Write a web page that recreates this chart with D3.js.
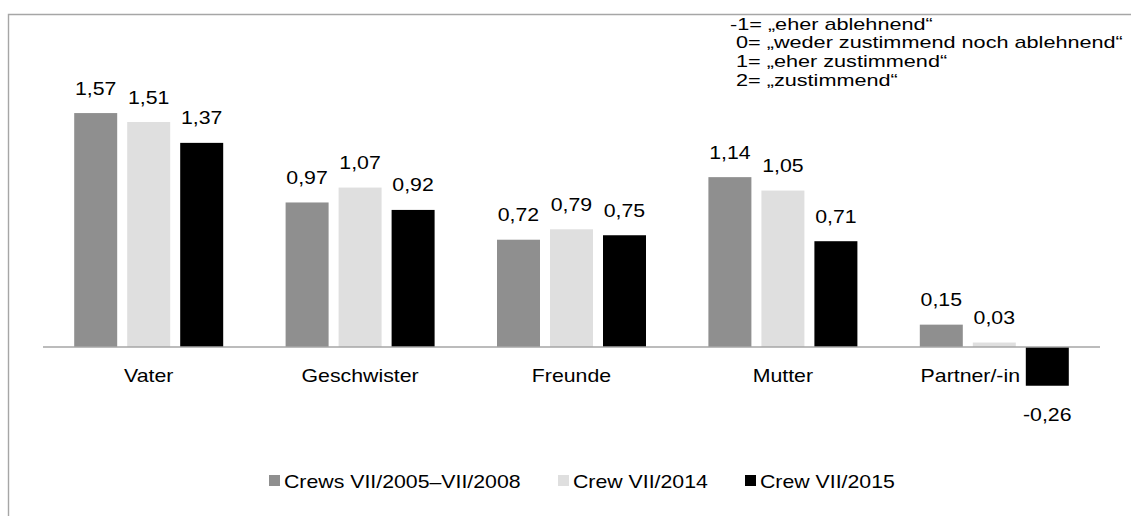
<!DOCTYPE html>
<html><head><meta charset="utf-8">
<script src="https://cdn.jsdelivr.net/npm/d3@7"></script>
<style>body{margin:0;background:#fff}svg{display:block;font-family:"Liberation Sans",Arial,sans-serif}</style>
</head><body>
<svg id="c" width="1131" height="516"></svg>
<script>
const categories = ["Vater","Geschwister","Freunde","Mutter","Partner/-in"];
const seriesNames = ["Crews VII/2005–VII/2008","Crew VII/2014","Crew VII/2015"];
const seriesColors = ["#8f8f8f","#dfdfdf","#000000"];
const s1 = [1.57,0.97,0.72,1.14,0.15];
const s2 = [1.51,1.07,0.79,1.05,0.03];
const s3 = [1.37,0.92,0.75,0.71,-0.26];
const noteLines = ["-1= „eher ablehnend“"," 0= „weder zustimmend noch ablehnend“"," 1= „eher zustimmend“"," 2= „zustimmend“"];

const seriesValues = [s1,s2,s3];
const svg = d3.select("#c");
const FS = 19, STRETCH = 1.12;
const NOTE_FS = 16.2, NOTE_STRETCH = 19/16.2*1.14;
const fmt = v => d3.format(".2f")(v).replace(".",",").replace("−","-");
function stretch(sel, k){
  k = k || STRETCH;
  sel.each(function(){
    const w = this.getComputedTextLength();
    d3.select(this).attr("textLength", w*k).attr("lengthAdjust","spacingAndGlyphs");
  });
  return sel;
}

// frame
svg.append("path").attr("d","M8.5,516 V14.5 H1131").attr("fill","none").attr("stroke","#a6a6a6").attr("stroke-width",1.4);

const x = d3.scaleBand().domain(categories).range([43,1100]).paddingInner(0).paddingOuter(0);
const groupW = 149;
const xs = d3.scaleBand().domain(d3.range(3)).range([0,groupW]).paddingInner(10/53).paddingOuter(0);
const y = d3.scaleLinear().domain([-0.5,2]).range([421.5,49]);
const off = (x.bandwidth()-groupW)/2;

const g = svg.append("g");
categories.forEach((c,ci)=>{
  seriesValues.forEach((vals,si)=>{
    const v = vals[ci];
    const bx = x(c)+off+xs(si);
    g.append("rect").attr("x",bx).attr("width",xs.bandwidth())
      .attr("y",y(Math.max(0,v))).attr("height",Math.abs(y(v)-y(0)))
      .attr("fill",seriesColors[si]);
    const t = g.append("text").attr("x",bx+xs.bandwidth()/2)
      .attr("y", v>=0 ? y(v)-18.5 : y(v)+35)
      .attr("text-anchor","middle").attr("font-size",FS).attr("fill","#000").text(fmt(v));
    stretch(t);
  });
});

// zero axis
svg.append("line").attr("x1",43).attr("x2",1100).attr("y1",y(0)).attr("y2",y(0)).attr("stroke","#a6a6a6").attr("stroke-width",1.5);

// category labels
categories.forEach((c,ci)=>{
  const shift = ci===categories.length-1 ? -24 : 0;
  stretch(svg.append("text").attr("x",x(c)+x.bandwidth()/2+shift).attr("y",382)
    .attr("text-anchor","middle").attr("font-size",FS).text(c));
});

// note
noteLines.forEach((t,i)=>{
  stretch(svg.append("text").attr("x",730).attr("y",29.5+i*18.8).attr("font-size",NOTE_FS)
    .attr("xml:space","preserve").style("white-space","pre").text(t), NOTE_STRETCH);
});

// legend
const legX = [269,558,745];
seriesNames.forEach((n,i)=>{
  svg.append("rect").attr("x",legX[i]).attr("y",475).attr("width",11).attr("height",11).attr("fill",seriesColors[i]);
  stretch(svg.append("text").attr("x",legX[i]+15).attr("y",488).attr("font-size",FS).text(n));
});
</script>
</body></html>
